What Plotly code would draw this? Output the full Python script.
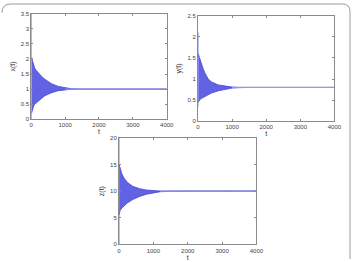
import plotly.graph_objects as go

W, H = 358, 262

# ---- data (envelopes of the damped oscillation) ----
t_x = [10, 30, 60, 100, 150, 200, 300, 400, 500, 600, 800, 1000, 1200, 1500, 4000]
x_upper = [2.05, 1.95, 1.8, 1.7, 1.62, 1.55, 1.43, 1.33, 1.25, 1.18, 1.09, 1.04, 1.01, 1.0, 1.0]
x_lower = [0.2, 0.3, 0.4, 0.5, 0.55, 0.6, 0.7, 0.78, 0.83, 0.88, 0.95, 0.98, 0.995, 1.0, 1.0]
x_spike = [0.0, 3.5]

t_y = [10, 40, 80, 150, 200, 300, 400, 600, 800, 1000, 1200, 1500, 4000]
y_upper = [1.6, 1.5, 1.42, 1.25, 1.15, 1.0, 0.93, 0.86, 0.83, 0.81, 0.8, 0.8, 0.8]
y_lower = [0.45, 0.5, 0.53, 0.56, 0.58, 0.63, 0.67, 0.72, 0.76, 0.785, 0.795, 0.8, 0.8]
y_spike = [0.35, 2.1]

t_z = [5, 30, 80, 150, 250, 400, 600, 800, 1000, 1200, 1500, 2000, 4000]
z_upper = [15.0, 14.5, 13.3, 12.4, 11.6, 10.9, 10.45, 10.2, 10.08, 10.02, 10.0, 10.0, 10.0]
z_lower = [5.5, 6.3, 6.8, 7.2, 7.8, 8.4, 9.0, 9.4, 9.7, 9.88, 9.97, 10.0, 10.0]
z_spike = [0.0, 20.0]

x_ticks = [0, 1000, 2000, 3000, 4000]
panels = [
    dict(t=t_x, up=x_upper, lo=x_lower, sp=x_spike, yr=[0, 3.5], dt=0.5, title="x(t)",
         px=(30, 169), py=(11, 119)),
    dict(t=t_y, up=y_upper, lo=y_lower, sp=y_spike, yr=[0, 2.5], dt=0.5, title="y(t)",
         px=(201, 341), py=(13, 121)),
    dict(t=t_z, up=z_upper, lo=z_lower, sp=z_spike, yr=[0, 20], dt=5, title="z(t)",
         px=(120, 261), py=(138, 247)),
]

FILL = "rgba(70,70,225,0.85)"
EDGE = "rgba(60,60,210,0.9)"
TAIL = "rgb(150,150,230)"
AX = "#8a8a8a"
FONT = "Liberation Sans, Arial, sans-serif"

fig = go.Figure()
layout = dict(width=W, height=H, margin=dict(l=0, r=0, t=0, b=0),
              paper_bgcolor="white", plot_bgcolor="white", showlegend=False,
              font=dict(family=FONT, size=6, color="#444"))

for i, p in enumerate(panels, start=1):
    xa = "x" if i == 1 else f"x{i}"
    ya = "y" if i == 1 else f"y{i}"
    t = p["t"]
    fig.add_trace(go.Scatter(x=t, y=p["lo"], mode="lines", line=dict(color=EDGE, width=0.8),
                             xaxis=xa, yaxis=ya, hoverinfo="skip"))
    fig.add_trace(go.Scatter(x=t, y=p["up"], mode="lines", line=dict(color=EDGE, width=0.8),
                             fill="tonexty", fillcolor=FILL, xaxis=xa, yaxis=ya, hoverinfo="skip"))
    fig.add_trace(go.Scatter(x=[t[0]] * 2 if False else [0, 0], y=p["sp"], mode="lines",
                             line=dict(color="rgb(120,120,235)", width=1),
                             xaxis=xa, yaxis=ya, hoverinfo="skip"))
    fig.add_trace(go.Scatter(x=[t[-4], t[-1]], y=[p["up"][-1], p["up"][-1]], mode="lines",
                             line=dict(color=TAIL, width=1.2), xaxis=xa, yaxis=ya, hoverinfo="skip"))

    x0, x1 = p["px"]
    y0, y1 = p["py"]
    key_x = "xaxis" if i == 1 else f"xaxis{i}"
    key_y = "yaxis" if i == 1 else f"yaxis{i}"
    layout[key_x] = dict(domain=[x0 / W, x1 / W], range=[0, 4000], anchor=ya,
                         tickvals=x_ticks, ticks="inside", ticklen=2, tickcolor=AX,
                         showline=True, linecolor=AX, linewidth=1, mirror="ticks",
                         showgrid=False, zeroline=False,
                         tickfont=dict(size=6, color="#444"),
                         title=dict(text="t", font=dict(size=7, color="#333"), standoff=0))
    yt = []
    v = p["yr"][0]
    while v <= p["yr"][1] + 1e-9:
        yt.append(round(v, 3))
        v += p["dt"]
    layout[key_y] = dict(domain=[1 - y1 / H, 1 - y0 / H], range=p["yr"], anchor=xa,
                         tickvals=yt, ticks="inside", ticklen=2, tickcolor=AX,
                         showline=True, linecolor=AX, linewidth=1, mirror="ticks",
                         showgrid=False, zeroline=False,
                         tickfont=dict(size=6, color="#444"),
                         title=dict(text=p["title"], font=dict(size=7, color="#333"), standoff=4))

layout["shapes"] = [dict(type="path", xref="paper", yref="paper",
                         path=f"M 0,{1-10/H} Q 0,{1-1/H} {9/W},{1-1/H} L {349/W},{1-1/H} "
                              f"Q {357/W},{1-1/H} {357/W},{1-9/H} L {357/W},0",
                         line=dict(color="#9a9a9a", width=1))]
fig.update_layout(**layout)
fig.write_html("out.html")
